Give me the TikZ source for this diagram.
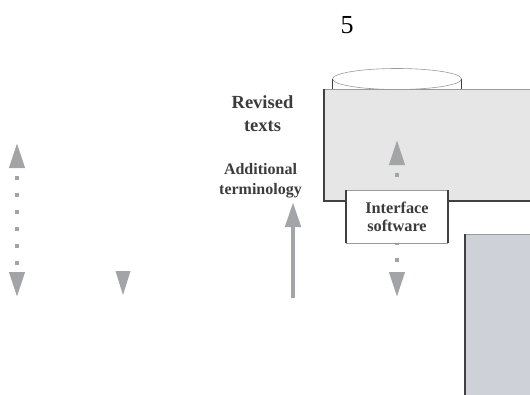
\documentclass[tikz,border=0pt]{standalone}
\usepackage{fontspec}
\setmainfont{Liberation Serif}
\usetikzlibrary{arrows.meta,shapes.geometric}
\definecolor{arrowgray}{HTML}{A2A4A7}
\definecolor{darkline}{HTML}{404040}
\definecolor{lightline}{HTML}{9A9A9A}
\definecolor{boxgray}{HTML}{E6E6E6}
\definecolor{boxblue}{HTML}{CED1D8}
\definecolor{txt}{HTML}{3C3C3C}
\tikzset{
  darkedge/.style={draw=darkline, line width=1.5pt},
  lightedge/.style={draw=lightline, line width=0.6pt},
  dotarrow/.style={draw=arrowgray, line width=4pt, dash pattern=on 4pt off 13pt, dash phase=8pt,
    {Triangle[width=15pt,length=25pt]}-{Triangle[width=15pt,length=25pt]}},
  solidarrow/.style={draw=arrowgray, line width=4.5pt, -{Triangle[width=15pt,length=25pt]}},
  lbl/.style={text=txt, align=center, inner sep=0pt, font=\bfseries\fontsize{16}{20}\selectfont},
  plainbox/.style={inner sep=0pt, outer sep=0pt}
}
\begin{document}
\begin{tikzpicture}[x=1pt,y=-1pt]
\useasboundingbox (0,0) rectangle (530,394);
% page number
\node[text=black, inner sep=0pt, font=\fontsize{26}{30}\selectfont] (pg) at (347,25) {5};
% cylinder top
\node[plainbox, ellipse, fill=white, lightedge, minimum width=129pt, minimum height=21pt] (cyl) at (397,79) {};
\draw[darkline, line width=1pt] (cyl.west) -- ++(0,10);
\draw[darkline, line width=1pt] (cyl.east) -- ++(0,10);
% big database box
\node[plainbox, anchor=north west, fill=boxgray, minimum width=210pt, minimum height=112pt] (db) at (324,89) {};
\draw[lightedge] (db.north west) -- (db.north east);
\draw[darkedge] (db.north west) -- (db.south west) -- (db.south east);
% bottom right box
\node[plainbox, anchor=north west, fill=boxblue, minimum width=70pt, minimum height=165pt] (rb) at (465,234) {};
\draw[lightedge] (rb.north west) -- (rb.north east);
\draw[darkedge] (rb.north west) -- (rb.south west);
% labels
\node[lbl, font=\bfseries\fontsize{18.5}{22.7}\selectfont] (rev) at (262.5,114) {Revised\\texts};
\node[lbl] (add) at (260.5,181) {Additional\\terminology};
% arrows
\coordinate (la1) at (17,143);
\coordinate (la2) at (17,297);
\draw[dotarrow] (la1) -- (la2);
\coordinate (ma1) at (397,140);
\coordinate (ma2) at (397,297);
\draw[dotarrow] (ma1) -- (ma2);
\coordinate (sa1) at (293,202);
\coordinate (sa2) at (293,298);
\draw[solidarrow] (sa2) -- (sa1);
\coordinate (da1) at (115.5,271);
\coordinate (da2) at (130.5,271);
\coordinate (da3) at (123,295);
\fill[arrowgray] (da1) -- (da2) -- (da3) -- cycle;
% interface box
\node[plainbox, fill=white, minimum width=102pt, minimum height=53pt, text=txt, align=center,
  font=\bfseries\fontsize{16.3}{18.5}\selectfont] (iface) at (397,216.7) {Interface\\software};
\draw[lightedge] (iface.north west) -- (iface.north east);
\draw[lightedge] (iface.south west) -- (iface.south east);
\draw[darkedge] (iface.north west) -- (iface.south west);
\draw[darkedge] (iface.north east) -- (iface.south east);
\end{tikzpicture}
\end{document}
